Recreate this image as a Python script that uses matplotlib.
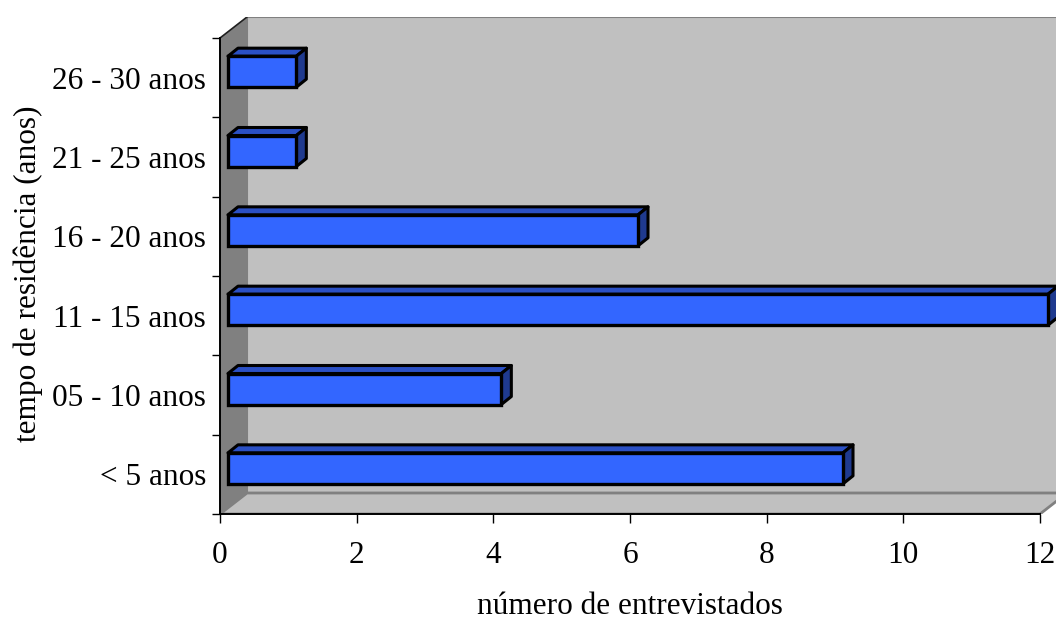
import matplotlib
matplotlib.use("Agg")
import matplotlib.pyplot as plt
from matplotlib.patches import Polygon
import numpy as np

categories = ["< 5 anos", "05 - 10 anos", "11 - 15 anos", "16 - 20 anos", "21 - 25 anos", "26 - 30 anos"]
values = [9, 4, 12, 6, 1, 1]
xticks = [0, 2, 4, 6, 8, 10, 12]
xlabel = "número de entrevistados"
ylabel = "tempo de residência (anos)"

plt.rcParams['font.family'] = ['Liberation Serif', 'DejaVu Serif']
FS = 22.5

W, H = 1056, 622
fig = plt.figure(figsize=(W / 100, H / 100), dpi=100)
x0px, x12px = 220, 1040
ybot, ytop = 514, 17
ppu_x = (x12px - x0px) / 12.0
ppu_y = (514 - 38) / 6.0
ax = fig.add_axes([x0px / W, (H - ybot) / H, (W - x0px) / W, (ybot - ytop) / H])
xmax = (W - x0px) / ppu_x
ax.set_xlim(0, xmax)
ax.set_ylim(-0.5, -0.5 + (ybot - ytop) / ppu_y)

dx = 27 / ppu_x
dy = 21 / ppu_y
bofx = 8 / ppu_x
bofy = 6 / ppu_y
bdx = 10 / ppu_x
bdy = 8 / ppu_y
bh = 31 / ppu_y

n = len(categories)
ylo, yhi = -0.5, n - 0.5
xend = 12

wall_c = "#c0c0c0"
side_c = "#808080"
ax.add_patch(Polygon([(dx, ylo + dy), (xmax + 1, ylo + dy), (xmax + 1, yhi + dy), (dx, yhi + dy)],
                     closed=True, facecolor=wall_c, edgecolor="#808080", lw=1.5, zorder=1))
ax.add_patch(Polygon([(0, ylo), (xend, ylo), (xend + dx, ylo + dy), (dx, ylo + dy)],
                     closed=True, facecolor=wall_c, edgecolor="#808080", lw=2, zorder=1.5))
ax.add_patch(Polygon([(0, ylo), (0, yhi), (dx, yhi + dy), (dx, ylo + dy)],
                     closed=True, facecolor=side_c, edgecolor="none", lw=0, zorder=1.6))
ax.plot([0, dx], [yhi, yhi + dy], color="#202020", lw=1.2, zorder=1.7)

ypos = np.arange(n)
front_c = "#3366ff"
top_c = "#2b50c4"
sidebar_c = "#1f3a8f"
for i in range(n - 1, -1, -1):
    v = values[i]
    yb = ypos[i] + bofy - bh / 2
    yt = yb + bh
    xl = bofx
    xr = bofx + v
    ax.add_patch(Polygon([(xl, yt), (xr, yt), (xr + bdx, yt + bdy), (xl + bdx, yt + bdy)],
                         closed=True, facecolor=top_c, edgecolor="black", lw=2.2, zorder=3, joinstyle="round"))
    ax.add_patch(Polygon([(xr, yb), (xr + bdx, yb + bdy), (xr + bdx, yt + bdy), (xr, yt)],
                         closed=True, facecolor=sidebar_c, edgecolor="black", lw=2.2, zorder=3, joinstyle="round"))
ax.barh(ypos + bofy, values, left=bofx, height=bh, color=front_c, edgecolor="black", lw=2.4, zorder=4)

ax.plot([0, xend], [ylo, ylo], color="black", lw=1.4, zorder=5, clip_on=False)
ax.plot([0, 0], [ylo, yhi], color="black", lw=1.4, zorder=5, clip_on=False)

for s in ax.spines.values():
    s.set_visible(False)

ax.set_xticks(xticks)
ax.set_xticklabels([str(t) for t in xticks])
ax.tick_params(axis="x", direction="out", length=6.5, width=1, pad=13, labelsize=FS)
ax.set_yticks(ypos)
ax.set_yticklabels(categories)
ax.set_yticks(np.arange(n + 1) - 0.5, minor=True)
ax.tick_params(axis="y", which="major", length=0, pad=10, labelsize=FS)
ax.tick_params(axis="y", which="minor", direction="out", length=6, width=1)

fig.text(630 / W, 1 - 606 / H, xlabel, ha="center", va="center", fontsize=FS)
fig.text(28 / W, 1 - 274 / H, ylabel, ha="center", va="center", fontsize=FS, rotation=90)

fig.savefig("out.png", dpi=100)
